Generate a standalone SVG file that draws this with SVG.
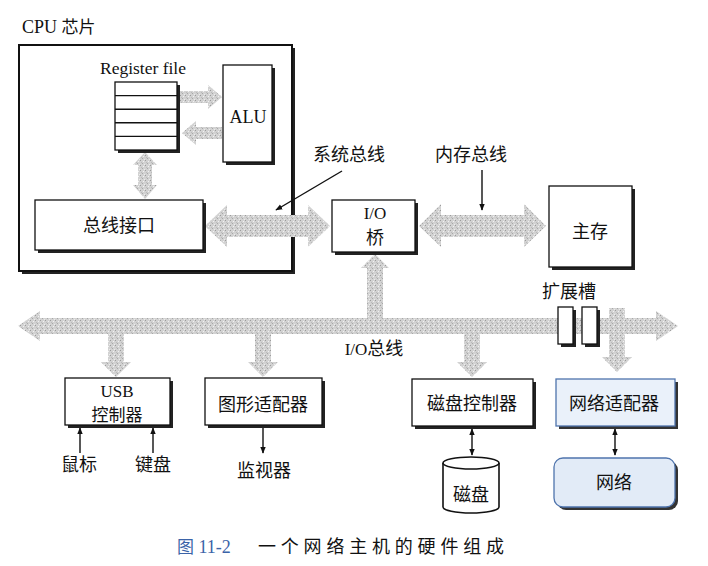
<svg xmlns="http://www.w3.org/2000/svg" width="708" height="566" viewBox="0 0 708 566">
<style>
.t{font-family:"Liberation Serif","Noto Sans CJK SC",serif;fill:#111;text-anchor:middle}
.c{font-family:"Noto Sans CJK SC","Liberation Serif",sans-serif;fill:#111;text-anchor:middle;font-size:18px}
.box{fill:#fff;stroke:#111;stroke-width:1.3}
.sh{fill:#222}
.bus{fill:url(#speck)}
.ln{stroke:#111;stroke-width:1.4;fill:none}
</style>
<defs>
<pattern id="speck" width="5" height="5" patternUnits="userSpaceOnUse">
<rect width="5" height="5" fill="#d2d2d2"/>
<rect x="0" y="0" width="1" height="1" fill="#9c9c9c"/>
<rect x="3" y="1" width="1" height="1" fill="#f2f2f2"/>
<rect x="2" y="3" width="1" height="1" fill="#a8a8a8"/>
<rect x="4" y="4" width="1" height="1" fill="#ececec"/>
<rect x="1" y="2" width="1" height="1" fill="#bbbbbb"/>
</pattern>
<marker id="ah" viewBox="0 0 10 10" refX="9" refY="5" markerWidth="7" markerHeight="7" orient="auto-start-reverse" markerUnits="userSpaceOnUse">
<path d="M0,1 L10,5 L0,9 Z" fill="#111"/>
</marker>
</defs>
<rect width="708" height="566" fill="#fff"/>

<g id="cpu">
<rect x="22" y="48" width="273" height="226" class="sh"/>
<rect x="19" y="45" width="273" height="226" fill="#fff" stroke="#111" stroke-width="2"/>
<text x="22" y="33" class="t" style="text-anchor:start;font-size:18px">CPU <tspan style="font-family:'Noto Sans CJK SC',sans-serif;font-size:17px">芯片</tspan></text>
</g>

<g id="connectors">
<!-- reg -> ALU -->
<polygon class="bus" points="180,91 208,91 208,85 222,97 208,109 208,103 180,103"/>
<!-- ALU -> reg -->
<polygon class="bus" points="222,127 196,127 196,121 182,133 196,145 196,139 222,139"/>
<!-- reg <-> bus interface -->
<polygon class="bus" points="145,152 157,165 152,165 152,185 157,185 145,199 133,185 138,185 138,165 133,165"/>
<!-- system bus -->
<polygon class="bus" points="205,226 227,205 227,215 308,215 308,205 330,226 308,247 308,237 227,237 227,247"/>
<!-- memory bus -->
<polygon class="bus" points="419,226 441,204 441,215 524,215 524,204 546,226 524,247 524,237 441,237 441,247"/>
<!-- I/O bridge to I/O bus -->
<polygon class="bus" points="375,254 389,268 383,268 383,320 367,320 367,268 361,268"/>
<!-- I/O bus -->
<polygon class="bus" points="18,326 40,311 40,318 656,318 656,311 678,326 656,341 656,334 40,334 40,341"/>
<!-- branches -->
<polygon class="bus" points="108,332 124,332 124,362 131,362 116,377 101,362 108,362"/>
<polygon class="bus" points="255,332 271,332 271,362 278,362 263,377 248,362 255,362"/>
<polygon class="bus" points="464,332 480,332 480,362 487,362 472,377 457,362 464,362"/>
<polygon class="bus" points="609,308 625,308 625,357 632,357 617,372 602,357 609,357"/>
<!-- expansion slots -->
<rect x="561" y="310" width="15" height="37" class="sh"/>
<rect x="558" y="307" width="15" height="37" class="box"/>
<rect x="585" y="310" width="15" height="37" class="sh"/>
<rect x="582" y="307" width="15" height="37" class="box"/>
<!-- leader lines -->
<line class="ln" x1="342" y1="171" x2="276" y2="210" marker-end="url(#ah)"/>
<line class="ln" x1="482" y1="170" x2="482" y2="210" marker-end="url(#ah)"/>
<line class="ln" x1="80" y1="453" x2="80" y2="428" marker-end="url(#ah)"/>
<line class="ln" x1="153" y1="453" x2="153" y2="428" marker-end="url(#ah)"/>
<line class="ln" x1="263" y1="428" x2="263" y2="453" marker-end="url(#ah)"/>
<line class="ln" x1="472" y1="429" x2="472" y2="455" marker-start="url(#ah)" marker-end="url(#ah)"/>
<line class="ln" x1="615" y1="429" x2="615" y2="455" marker-start="url(#ah)" marker-end="url(#ah)"/>
</g>

<g id="register-file">
<text x="143" y="74" class="t" style="font-size:17.5px">Register file</text>
<rect x="118" y="85" width="62" height="68" class="sh"/>
<rect x="115" y="82" width="62" height="68" class="box"/>
<path class="ln" d="M115,95.6H177M115,109.2H177M115,122.8H177M115,136.4H177"/>
</g>

<g id="alu">
<rect x="226" y="68" width="49" height="97" class="sh"/>
<rect x="223" y="65" width="49" height="97" class="box"/>
<text x="248" y="123" class="t" style="font-size:18px">ALU</text>
</g>

<g id="bus-interface">
<rect x="38" y="203" width="168" height="50" class="sh"/>
<rect x="35" y="200" width="168" height="50" class="box"/>
<text x="119" y="232" class="c">总线接口</text>
</g>

<text x="349" y="161" class="c">系统总线</text>
<text x="471" y="161" class="c">内存总线</text>

<g id="io-bridge">
<rect x="335" y="203" width="83" height="52" class="sh"/>
<rect x="332" y="200" width="83" height="52" class="box"/>
<text x="375" y="219" class="t" style="font-size:17px">I/O</text>
<text x="375" y="244" class="c">桥</text>
</g>

<g id="main-memory">
<rect x="552" y="189" width="83" height="81" class="sh"/>
<rect x="549" y="186" width="83" height="81" class="box"/>
<text x="590" y="238" class="c">主存</text>
</g>

<text x="569" y="298" class="c">扩展槽</text>
<text x="374" y="355" class="t" style="font-size:17px">I/O<tspan style="font-family:'Noto Sans CJK SC',sans-serif;font-size:18px">总线</tspan></text>

<g id="usb">
<rect x="68" y="381" width="105" height="47" class="sh"/>
<rect x="65" y="378" width="105" height="47" class="box"/>
<text x="117" y="397" class="t" style="font-size:17px">USB</text>
<text x="117" y="421" class="c" style="font-size:17px">控制器</text>
</g>
<text x="79" y="471" class="c">鼠标</text>
<text x="153" y="471" class="c">键盘</text>

<g id="graphics">
<rect x="208" y="381" width="117" height="47" class="sh"/>
<rect x="205" y="378" width="117" height="47" class="box"/>
<text x="263" y="411" class="c">图形适配器</text>
</g>
<text x="264" y="477" class="c">监视器</text>

<g id="disk-controller">
<rect x="415" y="382" width="121" height="47" class="sh"/>
<rect x="412" y="379" width="121" height="47" class="box"/>
<text x="472" y="410" class="c">磁盘控制器</text>
</g>

<g id="disk">
<path d="M443,463 V507 A28,6 0 0 0 499,507 V463" fill="#fff" stroke="#111" stroke-width="1.6"/>
<ellipse cx="471" cy="463" rx="28" ry="6" fill="#fff" stroke="#111" stroke-width="1.6"/>
<text x="471" y="501" class="c">磁盘</text>
</g>

<g id="network-adapter">
<rect x="559" y="382" width="119" height="47" fill="#333"/>
<rect x="556" y="379" width="119" height="47" fill="#eaf1fa" stroke="#4f74ad" stroke-width="1.3"/>
<text x="614" y="410" class="c">网络适配器</text>
</g>

<g id="network">
<rect x="557" y="461" width="121" height="49" rx="9" fill="#333"/>
<rect x="554" y="458" width="121" height="49" rx="9" fill="#e2ebf7" stroke="#4f74ad" stroke-width="1.3"/>
<text x="614" y="489" class="c">网络</text>
</g>

<text x="177" y="553" style="font-family:'Liberation Serif','Noto Sans CJK SC',serif;font-size:18px;fill:#3b63a8"><tspan style="font-family:'Noto Sans CJK SC',sans-serif;font-size:17px">图</tspan> 11-2</text>
<text x="258" y="553" style="font-family:'Noto Sans CJK SC',sans-serif;font-size:18px;fill:#111;letter-spacing:4.8px">一个网络主机的硬件组成</text>
</svg>
